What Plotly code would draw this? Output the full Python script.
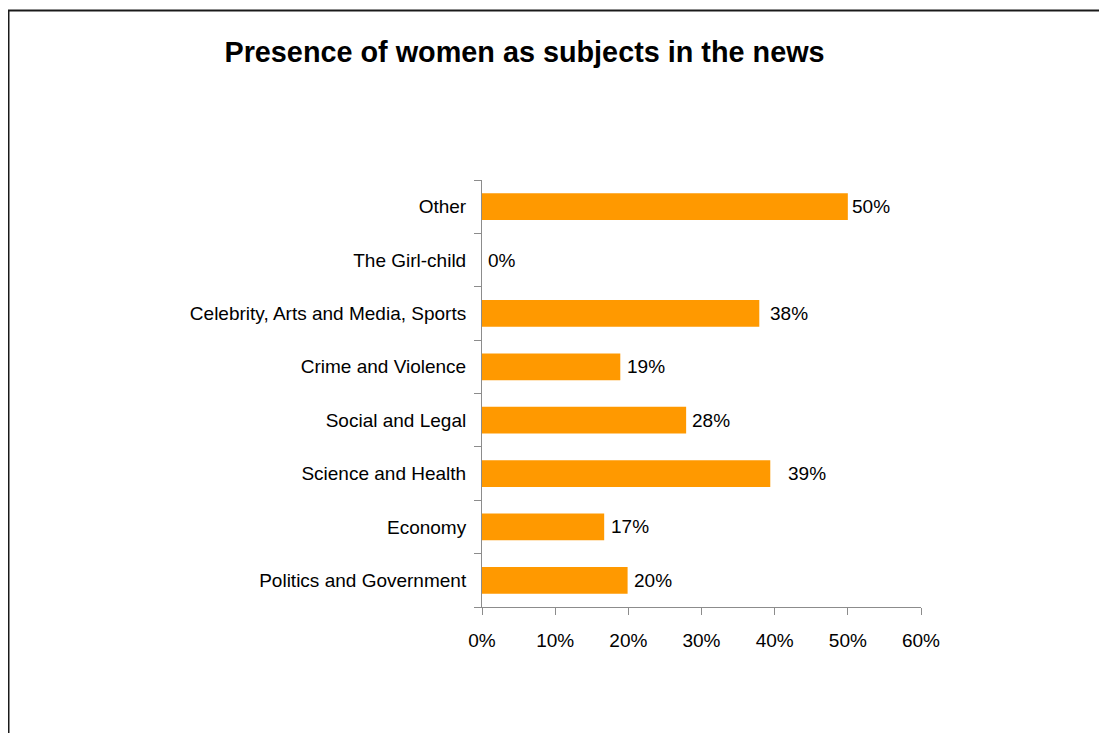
import plotly.graph_objects as go

# ---- data (bottom to top) ----
categories = [
    "Politics and Government",
    "Economy",
    "Science and Health",
    "Social and Legal",
    "Crime and Violence",
    "Celebrity, Arts and Media, Sports",
    "The Girl-child",
    "Other",
]
values = [0.199, 0.167, 0.394, 0.279, 0.189, 0.379, 0.0, 0.50]
value_labels = ["20%", "17%", "39%", "28%", "19%", "38%", "0%", "50%"]
x_ticks = [0, 0.1, 0.2, 0.3, 0.4, 0.5, 0.6]
x_tick_labels = ["0%", "10%", "20%", "30%", "40%", "50%", "60%"]
title_text = "Presence of women as subjects in the news"

# ---- styling ----
FONT = "Liberation Sans, Arial, sans-serif"
BAR_COLOR = "#FF9900"
AXIS_COLOR = "#8c8c8c"
label_xshift = [6, 7, 18, 6, 7, 11, 6, 4]

OFF = 8  # page body offset
W, H = 1107 - OFF, 733 - OFF
L, T = 482 - OFF, 180 - OFF
pw, ph = 439, 427
R, B = W - L - pw, H - T - ph


def px_x(p):
    return (p - OFF - L) / pw


def px_y(p):
    return (T + ph - (p - OFF)) / ph


fig = go.Figure()
fig.add_trace(go.Bar(
    x=values, y=categories, orientation="h",
    marker=dict(color=BAR_COLOR, line=dict(width=0)),
    hoverinfo="x+y",
))

for c, v, t, dx in zip(categories, values, value_labels, label_xshift):
    fig.add_annotation(
        x=v, y=c, xref="x", yref="y", text=t, showarrow=False,
        xanchor="left", yanchor="middle", xshift=dx - 2,
        font=dict(family=FONT, size=19, color="#000000"),
    )

# outer chart border
fig.add_shape(
    type="rect", xref="paper", yref="paper",
    x0=px_x(8.5), x1=px_x(1130), y0=px_y(760), y1=px_y(10.5),
    line=dict(color="#1a1a1a", width=2), fillcolor="rgba(0,0,0,0)",
    layer="below",
)

fig.update_layout(
    width=W, height=H,
    margin=dict(l=L, r=R, t=T, b=B, pad=0),
    paper_bgcolor="white", plot_bgcolor="white",
    bargap=0.5,
    showlegend=False,
    font=dict(family=FONT, size=19, color="#000000"),
    title=dict(
        text="<b>" + title_text + "</b>",
        xref="container", yref="container",
        x=(524.5 - OFF) / W, xanchor="center",
        y=1 - (52 - OFF) / H, yanchor="middle",
        font=dict(family=FONT, size=28.8, color="#000000"),
    ),
    xaxis=dict(
        range=[0, 0.6], tickvals=x_ticks, ticktext=x_tick_labels,
        showgrid=False, zeroline=False,
        showline=True, linecolor=AXIS_COLOR, linewidth=1,
        ticks="outside", ticklen=7, tickcolor=AXIS_COLOR, tickwidth=1,
        tickfont=dict(family=FONT, size=19, color="#000000"),
        ticklabelstandoff=9,
        fixedrange=True,
    ),
    yaxis=dict(
        type="category", categoryorder="array", categoryarray=categories,
        range=[-0.5, len(categories) - 0.5],
        showgrid=False, zeroline=False,
        showline=True, linecolor=AXIS_COLOR, linewidth=1,
        ticks="outside", ticklen=7, tickcolor=AXIS_COLOR, tickwidth=1,
        tickson="boundaries",
        tickfont=dict(family=FONT, size=19, color="#000000"),
        ticklabelstandoff=11,
        fixedrange=True,
    ),
)

fig.write_html("out.html", config={"displayModeBar": False})
